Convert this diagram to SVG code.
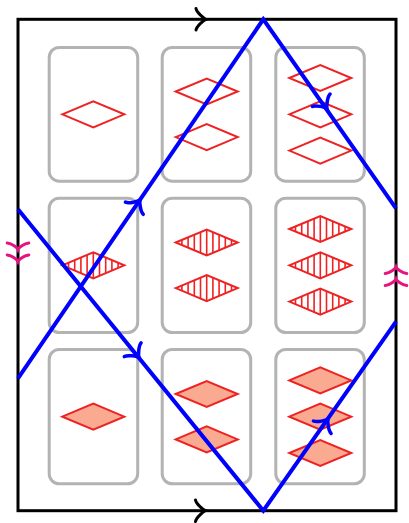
<svg xmlns="http://www.w3.org/2000/svg" xmlns:xlink="http://www.w3.org/1999/xlink" width="409" height="523" viewBox="0 0 409 523">
<style>
.frame{fill:none;stroke:#000;stroke-width:3}
.card{fill:#fff;stroke:#b3b3b3;stroke-width:3}
.dia{fill:none;stroke:#ee2222;stroke-width:2;stroke-linejoin:miter}
.dfill{fill:#f9aa90;stroke:#ee2222;stroke-width:2}
.hatch{stroke:#ee2222;stroke-width:1.6;fill:none}
.blue{fill:none;stroke:#0000ff;stroke-width:4;stroke-linejoin:miter}
.ablue{fill:none;stroke:#0000ff;stroke-width:3.5;stroke-linecap:round}
.ablack{fill:none;stroke:#000;stroke-width:3;stroke-linecap:round}
.amag{fill:none;stroke:#e8117f;stroke-width:3;stroke-linecap:round}
</style>
<defs>
<path id="dshape" d="M-31,0 L0,-13 L31,0 L0,13 Z"/>
<clipPath id="dclip"><path d="M-31,0 L0,-13 L31,0 L0,13 Z"/></clipPath>
<g id="od"><use xlink:href="#dshape" class="dia"/></g>
<g id="fd"><use xlink:href="#dshape" class="dfill"/></g>
<g id="hd"><g clip-path="url(#dclip)"><path class="hatch" d="M-24.8,-15V15M-18.6,-15V15M-12.4,-15V15M-6.2,-15V15M0,-15V15M6.2,-15V15M12.4,-15V15M18.6,-15V15M24.8,-15V15"/></g><use xlink:href="#dshape" class="dia"/></g>
<path id="arr" d="M-10,-10.8 C-9.3,-6.75 -2,-0.7 0,0 C-2,0.7 -9.3,6.75 -10,10.8"/>
<path id="arrm" d="M-6.5,-10.8 C-6,-6 -1.8,-0.7 0,0 C-1.8,0.7 -6,6 -6.5,10.8"/>
</defs>
<rect class="frame" x="18" y="19.3" width="378" height="491.4"/>
<g id="card-r1c1"><rect class="card" x="49.2" y="47.5" width="88.5" height="133.7" rx="10"/><use xlink:href="#od" x="93.3" y="114.3"/></g>
<g id="card-r1c2"><rect class="card" x="162.2" y="47.5" width="88.5" height="133.7" rx="10"/><use xlink:href="#od" x="206.7" y="91.5"/><use xlink:href="#od" x="206.7" y="137.1"/></g>
<g id="card-r1c3"><rect class="card" x="275.8" y="47.5" width="88.5" height="133.7" rx="10"/><use xlink:href="#od" x="320.3" y="78"/><use xlink:href="#od" x="320.3" y="114.3"/><use xlink:href="#od" x="320.3" y="150.6"/></g>
<g id="card-r2c1"><rect class="card" x="49.2" y="198.2" width="88.5" height="134.3" rx="10"/><use xlink:href="#hd" x="93.3" y="265.3"/></g>
<g id="card-r2c2"><rect class="card" x="162.2" y="198.2" width="88.5" height="134.3" rx="10"/><use xlink:href="#hd" x="206.7" y="242.5"/><use xlink:href="#hd" x="206.7" y="288.1"/></g>
<g id="card-r2c3"><rect class="card" x="275.8" y="198.2" width="88.5" height="134.3" rx="10"/><use xlink:href="#hd" x="320.3" y="229"/><use xlink:href="#hd" x="320.3" y="265.3"/><use xlink:href="#hd" x="320.3" y="301.6"/></g>
<g id="card-r3c1"><rect class="card" x="49.2" y="349.5" width="88.5" height="134.3" rx="10"/><use xlink:href="#fd" x="93.3" y="416.7"/></g>
<g id="card-r3c2"><rect class="card" x="162.2" y="349.5" width="88.5" height="134.3" rx="10"/><use xlink:href="#fd" x="206.7" y="394"/><use xlink:href="#fd" x="206.7" y="439.4"/></g>
<g id="card-r3c3"><rect class="card" x="275.8" y="349.5" width="88.5" height="134.3" rx="10"/><use xlink:href="#fd" x="320.3" y="380.4"/><use xlink:href="#fd" x="320.3" y="416.7"/><use xlink:href="#fd" x="320.3" y="453"/></g>
<g id="connectors">
<path class="blue" d="M18,378.3 L263.3,19.3 L396,208.3"/>
<path class="blue" d="M18,209.3 L263.3,510.7 L396,321.7"/>
<use xlink:href="#arr" class="ablue" transform="translate(140,200) rotate(-55.65)"/>
<use xlink:href="#arr" class="ablue" transform="translate(327,108.5) rotate(54.92)"/>
<use xlink:href="#arr" class="ablue" transform="translate(139,357.5) rotate(50.86)"/>
<use xlink:href="#arr" class="ablue" transform="translate(328,419) rotate(-54.92)"/>
<use xlink:href="#arr" class="ablack" transform="translate(206,19.3)"/>
<use xlink:href="#arr" class="ablack" transform="translate(205.5,510.7)"/>
<use xlink:href="#arrm" class="amag" transform="translate(18,249.5) rotate(90)"/>
<use xlink:href="#arrm" class="amag" transform="translate(18,261.5) rotate(90)"/>
<use xlink:href="#arrm" class="amag" transform="translate(396,267) rotate(-90)"/>
<use xlink:href="#arrm" class="amag" transform="translate(396,279) rotate(-90)"/>
</g>
</svg>
